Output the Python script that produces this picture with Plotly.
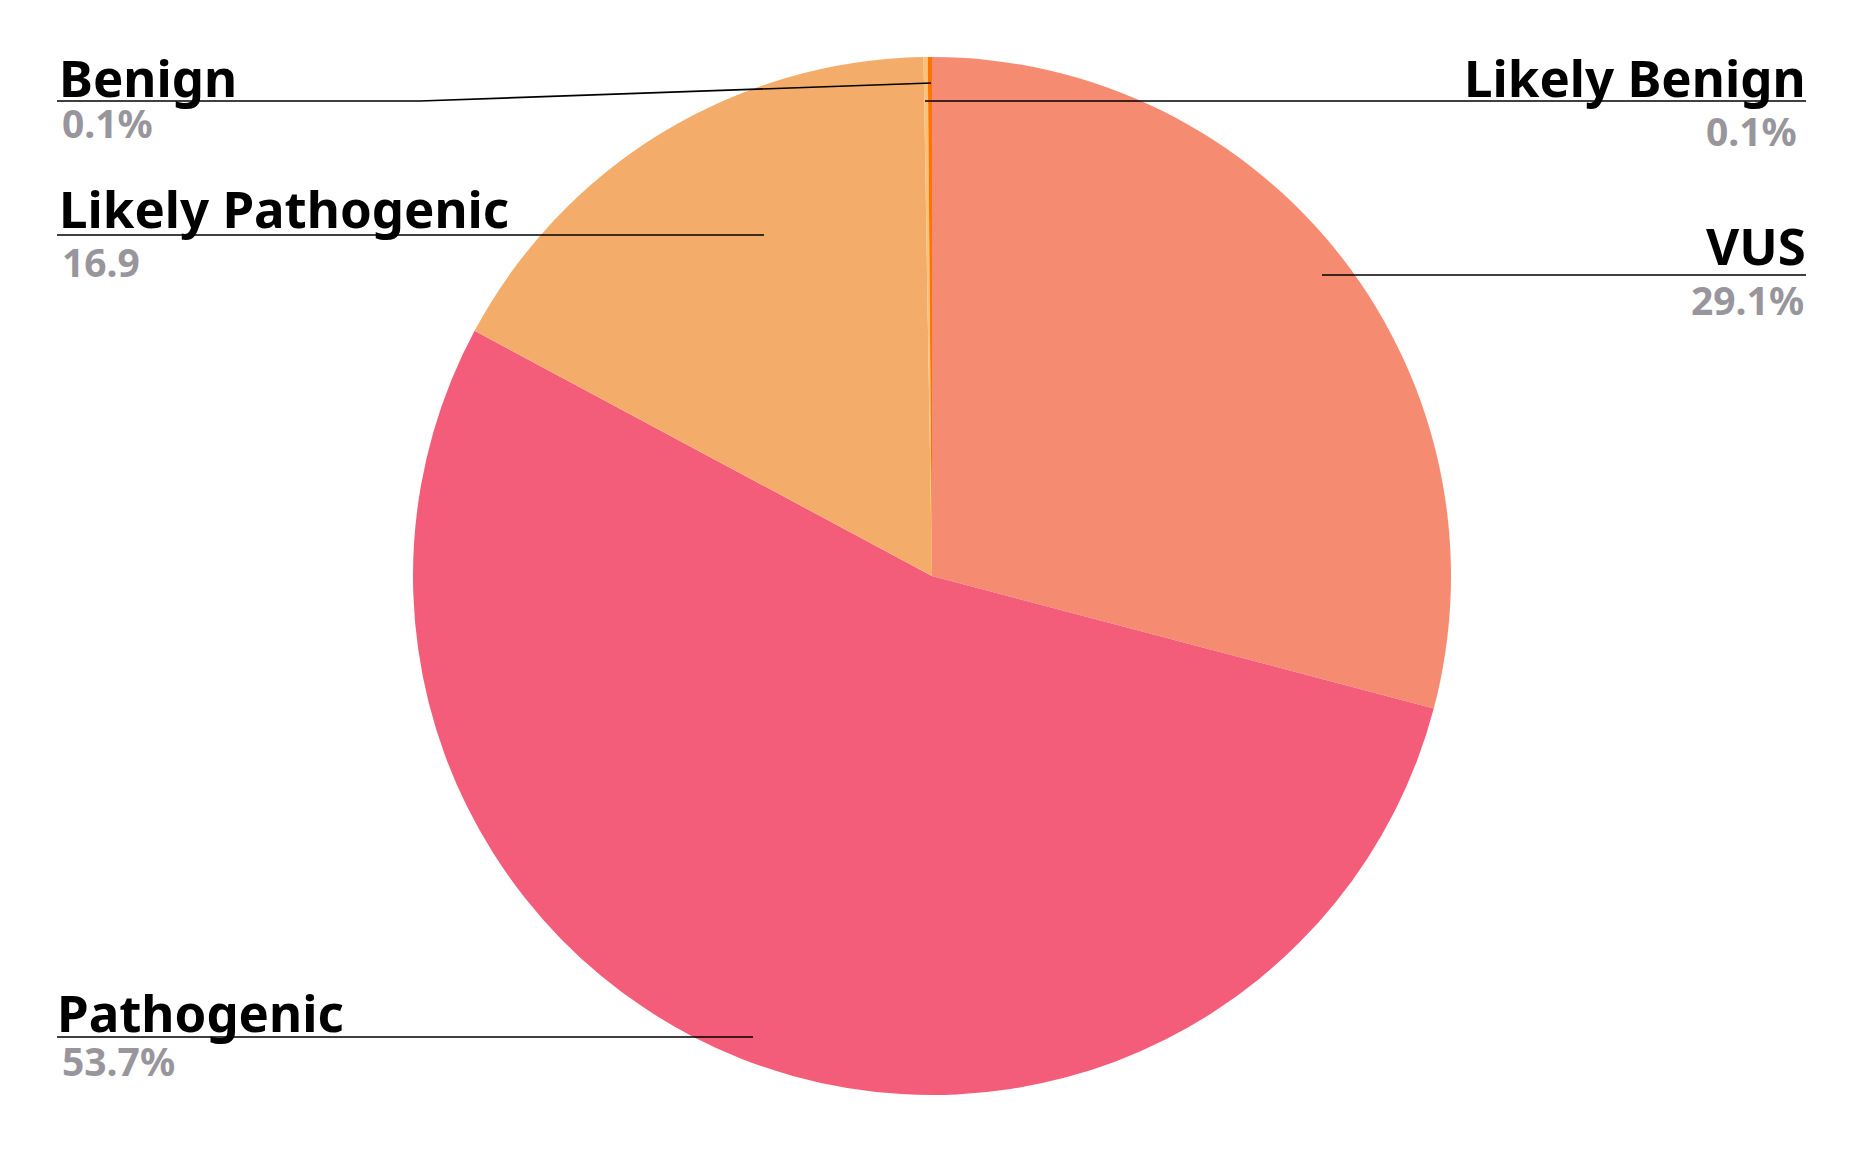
import plotly.graph_objects as go

# ---- data ----
labels = ["VUS", "Pathogenic", "Likely Pathogenic", "Benign", "Likely Benign"]
values = [29.1, 53.7, 16.9, 0.13, 0.13]
value_texts = ["29.1%", "53.7%", "16.9", "0.1%", "0.1%"]
colors = ["#f58c72", "#f45d7a", "#f4ac6a", "#f9c27a", "#ff7300"]

W, H = 1864, 1154
OFF = 8  # default page body margin

def px(x):
    return (x - OFF) / W

def py(y):
    return 1 - (y - OFF) / H

fig = go.Figure(go.Pie(
    labels=labels,
    values=values,
    sort=False,
    direction="clockwise",
    rotation=0,
    marker=dict(colors=colors, line=dict(width=0)),
    textinfo="none",
    hoverinfo="label+percent",
    showlegend=False,
    domain=dict(x=[px(413), px(1451)], y=[py(1096), py(56)]),
))

FONT = "Noto Sans"
label_font = dict(family=FONT, size=51, color="#000000")
pct_font = dict(family=FONT, size=39, color="#98969c")

# side, label x, label center y, value x, value center y
label_pos = {
    "Benign": ("left", 57, 77, 60, 122),
    "Likely Pathogenic": ("left", 57, 208, 60, 261),
    "Pathogenic": ("left", 55, 1012, 60, 1060),
    "Likely Benign": ("right", 1808, 77, 1799, 130),
    "VUS": ("right", 1808, 245, 1806, 300),
}

annotations = []
for lab, vt in zip(labels, value_texts):
    side, lx, ly, tx, ty = label_pos[lab]
    annotations.append(dict(
        text="<b>%s</b>" % lab, x=px(lx), y=py(ly), xref="paper", yref="paper",
        xanchor=side, yanchor="middle", showarrow=False, font=label_font))
    annotations.append(dict(
        text="<b>%s</b>" % vt, x=px(tx), y=py(ty), xref="paper", yref="paper",
        xanchor=side, yanchor="middle", showarrow=False, font=pct_font))

# leader lines
leaders = [
    [(57, 101), (420, 101), (931, 83)],     # Benign
    [(57, 235), (764, 235)],                 # Likely Pathogenic
    [(57, 1037), (753, 1037)],               # Pathogenic
    [(925, 101), (1806, 101)],               # Likely Benign
    [(1322, 275), (1806, 275)],              # VUS
]
shapes = []
for pts in leaders:
    for (x0, y0), (x1, y1) in zip(pts[:-1], pts[1:]):
        shapes.append(dict(type="line", xref="paper", yref="paper",
                           x0=px(x0), y0=py(y0), x1=px(x1), y1=py(y1),
                           line=dict(color="#000000", width=1.6)))

fig.update_layout(
    width=W, height=H,
    margin=dict(l=0, r=0, t=0, b=0),
    paper_bgcolor="white", plot_bgcolor="white",
    annotations=annotations, shapes=shapes,
)

fig.write_html("out.html")
